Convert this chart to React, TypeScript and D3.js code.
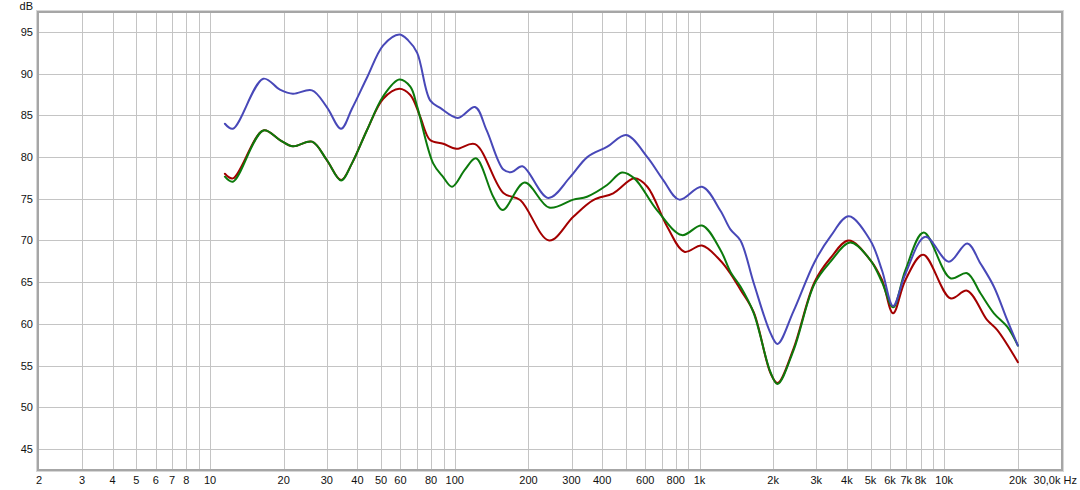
import React from "react";
import * as d3 from "d3";

const W = 1080;
const H = 490;

const xTickValues = [2, 3, 4, 5, 6, 7, 8, 10, 20, 30, 40, 50, 60, 80, 100, 200, 300, 400, 600, 800, 1000, 2000, 3000, 4000, 5000, 6000, 7000, 8000, 10000, 20000];
const xTickLabels = ["2", "3", "4", "5", "6", "7", "8", "10", "20", "30", "40", "50", "60", "80", "100", "200", "300", "400", "600", "800", "1k", "2k", "3k", "4k", "5k", "6k", "7k", "8k", "10k", "20k"];
const yTickValues = [45, 50, 55, 60, 65, 70, 75, 80, 85, 90, 95];

const blueFreq = [11.5, 12.4, 16.5, 19.3, 21.8, 26.1, 30, 34.3, 38, 43.9, 51, 59.3, 64.5, 70.2, 79.3, 87.2, 103, 121, 135, 158, 171, 189, 241, 296, 348, 420, 502, 612, 711, 827, 1023, 1216, 1340, 1470, 1665, 1950, 2085, 2420, 2950, 3430, 4071, 4990, 5570, 6180, 6940, 8380, 10440, 12420, 14060, 15960, 18080, 20000];
const blueDb = [84.0, 83.4, 89.4, 88.1, 87.6, 88.0, 86.0, 83.4, 85.8, 89.6, 93.4, 94.7, 94.0, 92.5, 86.8, 85.9, 84.7, 86.0, 83.2, 78.5, 78.2, 78.9, 75.1, 77.6, 80.0, 81.25, 82.65, 80.0, 77.25, 74.9, 76.45, 73.6, 71.3, 70.0, 64.9, 58.9, 57.6, 61.5, 67.4, 70.5, 72.9, 70.0, 66.4, 62.15, 66.0, 70.45, 67.46, 69.65, 67.25, 64.46, 60.47, 57.4];

const redFreq = [11.5, 12.4, 16.5, 19.3, 21.8, 26.1, 30, 34.3, 38, 43.8, 51, 59.3, 65.8, 72.2, 79.3, 89.7, 101.6, 121, 158, 185, 243, 305, 368, 444, 542, 612, 738, 867, 1023, 1216, 1340, 1470, 1665, 1950, 2085, 2420, 2950, 3430, 4071, 4990, 5570, 6180, 6940, 8200, 10600, 12400, 14960, 16450, 20000];
const redDb = [78.0, 77.45, 83.2, 82.05, 81.3, 81.85, 79.65, 77.25, 79.25, 83.25, 87.0, 88.2, 87.45, 84.85, 82.05, 81.6, 81.0, 81.55, 75.7, 74.85, 70.0, 72.85, 74.85, 75.65, 77.45, 76.45, 71.65, 68.65, 69.4, 67.6, 66.0, 64.1, 61.4, 54.1, 52.9, 57.0, 65.0, 67.9, 70.0, 67.66, 65.26, 61.27, 65.26, 68.3, 63.07, 63.98, 60.47, 59.27, 55.4];

const greenFreq = [11.5, 12.4, 16.5, 19.3, 21.8, 26.1, 30, 34.3, 38, 43.8, 51, 59.3, 65.8, 70.2, 81.6, 89.7, 97.5, 110, 122, 143.6, 157, 193, 243, 305, 347, 419, 482, 542, 670, 847, 1023, 1216, 1340, 1470, 1665, 1950, 2085, 2420, 2950, 3430, 4130, 4990, 5570, 6180, 6940, 8240, 10600, 12400, 14060, 15960, 18080, 20000];
const greenDb = [77.65, 77.05, 83.2, 82.05, 81.3, 81.85, 79.65, 77.2, 79.25, 83.25, 87.3, 89.3, 88.45, 86.05, 79.25, 77.6, 76.45, 78.5, 79.85, 75.25, 73.65, 76.95, 73.95, 74.9, 75.25, 76.65, 78.15, 77.45, 73.65, 70.65, 71.8, 68.9, 66.2, 64.47, 61.3, 54.2, 52.8, 56.8, 64.8, 67.46, 69.75, 67.66, 65.0, 61.99, 66.45, 70.95, 65.47, 66.07, 63.67, 61.27, 59.67, 57.4];

const series = [
  { name: "red", freq: redFreq, db: redDb, color: "#a30000" },
  { name: "green", freq: greenFreq, db: greenDb, color: "#0c7a0c" },
  { name: "blue", freq: blueFreq, db: blueDb, color: "#4848b8" },
];

export default function App() {
  const left = 39, right = 1061, top = 13, bottom = 469;
  const x = d3.scaleLog().domain([2, 30000]).range([left, right]);
  const y = d3.scaleLinear().domain([42.6, 97.28]).range([bottom, top]);

  const gridFreqs: number[] = [];
  for (let e = 0; e <= 4; e++) {
    for (let d = 1; d <= 9; d++) {
      const f = d * Math.pow(10, e);
      if (f > 2 && f < 30000) gridFreqs.push(f);
    }
  }

  const line = d3
    .line<[number, number]>()
    .x((d) => x(d[0]))
    .y((d) => y(d[1]))
    .curve(d3.curveCatmullRom.alpha(0.5));

  const font = "'Liberation Sans', Arial, sans-serif";

  return (
    <svg width={W} height={H} style={{ position: "absolute", left: 0, top: 0 }}>
      <defs>
        <clipPath id="plot">
          <rect x={left} y={top} width={right - left} height={bottom - top} />
        </clipPath>
      </defs>
      <rect x={0} y={0} width={W} height={H} fill="#ffffff" />
      <rect x={left} y={top} width={right - left} height={bottom - top} fill="#ffffff" />
      <g stroke="#c4c4c4" strokeWidth={1} shapeRendering="crispEdges">
        {gridFreqs.map((f) => (
          <line key={"gx" + f} x1={Math.round(x(f)) + 0.5} x2={Math.round(x(f)) + 0.5} y1={top} y2={bottom} />
        ))}
        {yTickValues.map((v) => (
          <line key={"gy" + v} x1={left} x2={right} y1={Math.round(y(v)) + 0.5} y2={Math.round(y(v)) + 0.5} />
        ))}
      </g>
      <g clipPath="url(#plot)" fill="none" strokeWidth={2} strokeLinejoin="round" strokeLinecap="round">
        {series.map((s) => (
          <path
            key={s.name}
            d={line(s.freq.map((f, i) => [f, s.db[i]] as [number, number])) || ""}
            stroke={s.color}
          />
        ))}
      </g>
      <rect x={left - 2.5} y={top - 2.5} width={right - left + 5} height={bottom - top + 5} fill="none" stroke="#d6d6d6" strokeWidth={1} />
      <rect x={left - 1} y={top - 1} width={right - left + 2} height={bottom - top + 2} fill="none" stroke="#a6a6a6" strokeWidth={2} />
      <g fontFamily={font} fontSize={11} fill="#111">
        <text x={33} y={10} textAnchor="end">dB</text>
        {yTickValues.map((v) => (
          <text key={"ty" + v} x={33} y={y(v) + 4} textAnchor="end">{v}</text>
        ))}
        {xTickValues.map((f, i) => (
          <text key={"tx" + f} x={x(f)} y={484} textAnchor="middle">{xTickLabels[i]}</text>
        ))}
        <text x={1077} y={484} textAnchor="end">30,0k Hz</text>
      </g>
    </svg>
  );
}
